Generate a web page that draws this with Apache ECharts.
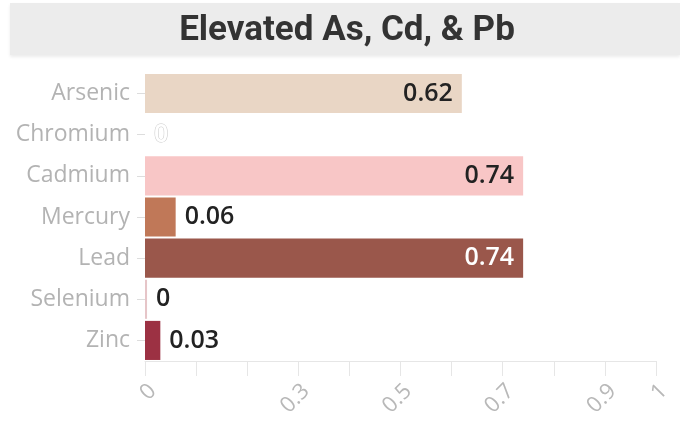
<!DOCTYPE html>
<html><head><meta charset="utf-8">
<script src="https://cdn.jsdelivr.net/npm/echarts@6/dist/echarts.min.js"></script>
<style>html,body{margin:0;padding:0;background:#fff}#c{width:680px;height:425px}</style>
</head><body><div id="c"></div>
<script>
const titleText = 'Elevated As, Cd, & Pb';
const categories = ['Arsenic','Chromium','Cadmium','Mercury','Lead','Selenium','Zinc'];
const values = [0.62, 0, 0.74, 0.06, 0.74, 0.004, 0.03];
const barColors = ['#e9d6c5','#ffffff','#f8c6c6','#c07858','#9a574b','#e6c5c8','#9c3143'];
const shownTicks = [0, 0.3, 0.5, 0.7, 0.9, 1];

const fmt = v => String(+v.toFixed(2));
const labelStyles = [
  {position:'insideRight', color:'#222'},
  {position:'right', color:'#fff', textBorderColor:'#c8c8c8', textBorderWidth:1},
  {position:'insideRight', color:'#222'},
  {position:'right', color:'#222'},
  {position:'insideRight', color:'#fff'},
  {position:'right', color:'#222'},
  {position:'right', color:'#222'}
];

const chart = echarts.init(document.getElementById('c'), null, {renderer:'canvas'});
chart.setOption({
  animation:false,
  graphic:[
    {type:'rect', shape:{x:10,y:3,width:670,height:52}, style:{fill:'#ececec', shadowBlur:3, shadowColor:'rgba(0,0,0,0.08)', shadowOffsetY:2}, z:0},
    {type:'text', x:347, y:31, style:{text:titleText, fill:'#333', font:'bold 35px Roboto', align:'center', verticalAlign:'middle'}, z:1}
  ],
  grid:{left:145, right:24, top:73, bottom:64, containLabel:false},
  xAxis:{
    type:'value', min:0, max:1, interval:0.1,
    axisLine:{show:true, lineStyle:{color:'#e6e6e6', width:1}},
    axisTick:{show:true, length:15, lineStyle:{color:'#e6e6e6', width:1}},
    splitLine:{show:false},
    axisLabel:{
      rotate:45, margin:19, color:'#b8b8b8', fontSize:22, fontFamily:'Open Sans',
      verticalAlign:'top', lineHeight:22,
      formatter: v => shownTicks.some(t => Math.abs(t - v) < 1e-6) ? fmt(v) : ''
    }
  },
  yAxis:{
    type:'category', data:categories, inverse:true,
    axisLine:{show:false},
    axisTick:{show:true, alignWithLabel:true, length:8, lineStyle:{color:'#dddddd'}},
    axisLabel:{color:'#b3b3b3', fontSize:23, fontFamily:'Open Sans', margin:15}
  },
  series:[{
    type:'bar', barCategoryGap:'5%',
    data: values.map((v,i) => ({
      value:v,
      itemStyle:{color:barColors[i]},
      label:Object.assign({show:true, fontSize:25, fontFamily:'Open Sans', fontWeight:600, distance:9, formatter:p => fmt(p.value)}, labelStyles[i])
    }))
  }]
});
</script></body></html>
